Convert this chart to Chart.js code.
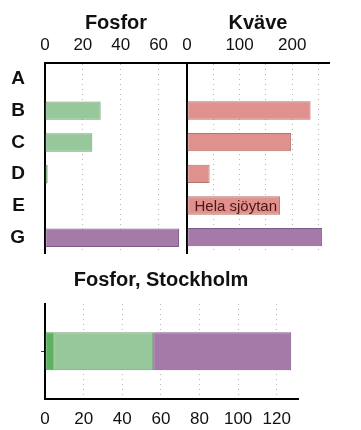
<!DOCTYPE html>
<html>
<head>
<meta charset="utf-8">
<script src="https://cdn.jsdelivr.net/npm/chart.js@4/dist/chart.umd.min.js"></script>
<style>
  body { margin: 0; background: #fff; }
  #wrap { position: relative; width: 361px; height: 430px; overflow: hidden; }
  canvas { position: absolute; }
</style>
</head>
<body>
<div id="wrap">
  <canvas id="fosfor" width="223" height="277" style="left:0;top:0"></canvas>
  <canvas id="kvave" width="186" height="262" style="left:175px;top:0"></canvas>
  <canvas id="stockholm" width="322" height="174" style="left:0;top:256px"></canvas>
</div>
<script>
// data
const categories = ["A", "B", "C", "D", "E", "G"];
const fosforValues = [null, 29.4, 25, 1.4, null, 70.8];
const kvaveValues = [null, 235, 198, 43, 177, 257];
const kvaveNote = ["", "", "", "", "Hela sjöytan", ""];
const fosforTicks = [0, 20, 40, 60];
const kvaveGrid = [0, 50, 100, 150, 200, 250];
const kvaveTickLabels = [0, 100, 200];

const stockholmParts = ["del 1", "del 2", "del 3"];
const stockholmValues = [5, 51, 71.5];
const stockholmTicks = [0, 20, 40, 60, 80, 100, 120];

const FONT = "'Liberation Sans', Arial, sans-serif";
const green = "#96c89b", greenLine = "#6e9f72";
const pink = "#e1918d", pinkLine = "#b5716d";
const purple = "#a57aa9", purpleLine = "#7e5a86";
const darkGreen = "#5bb35f", darkGreenLine = "#4a9a4e";

Chart.defaults.font.family = FONT;
Chart.defaults.color = "#111";

const dotted = [1, 4];

function titleOpts(text, fullSize, top, bottom) {
    return {
        display: true,
        text: text,
        fullSize: fullSize,
        color: "#111",
        font: { size: 20, weight: "bold" },
        padding: { top: top, bottom: bottom }
    };
}

// Fosfor (left)
new Chart(document.getElementById("fosfor"), {
    type: "bar",
    data: {
        labels: categories,
        datasets: [{
            data: fosforValues,
            backgroundColor: categories.map(c => c === "G" ? purple : green),
            borderColor: categories.map(c => c === "G" ? purpleLine : greenLine),
            borderWidth: 1,
            borderSkipped: false,
            barPercentage: 0.58,
            categoryPercentage: 1
        }]
    },
    options: {
        indexAxis: "y",
        responsive: false,
        animation: false,
        layout: { padding: { right: 36 } },
        plugins: { legend: { display: false }, tooltip: { enabled: false }, title: titleOpts("Fosfor", false, 11, 3) },
        scales: {
            x: {
                position: "top",
                min: 0,
                max: 75,
                afterFit: s => { s.height = 25; },
                afterBuildTicks: s => { s.ticks = fosforTicks.map(v => ({ value: v })); },
                ticks: { padding: 7, font: { size: 17 }, color: "#111", maxRotation: 0, autoSkip: false },
                grid: { color: "#b5b5b5", drawTicks: false },
                border: { display: true, color: "#000", width: 2, dash: dotted }
            },
            y: {
                afterFit: s => { s.width = 45; },
                ticks: { padding: 12, font: { size: 19, weight: "bold" }, color: "#111" },
                grid: { display: false },
                border: { display: true, color: "#000", width: 2 }
            }
        }
    }
});

// label written inside a bar
const barNotes = {
    id: "barNotes",
    afterDatasetsDraw(chart) {
        const ctx = chart.ctx;
        chart.getDatasetMeta(0).data.forEach((bar, i) => {
            if (!kvaveNote[i]) return;
            ctx.save();
            ctx.font = "15px " + FONT;
            ctx.fillStyle = "#4a1616";
            ctx.textAlign = "left";
            ctx.textBaseline = "middle";
            ctx.fillText(kvaveNote[i], bar.base + 7, bar.y + 1);
            ctx.restore();
        });
    }
};

// Kväve (right)
new Chart(document.getElementById("kvave"), {
    type: "bar",
    data: {
        labels: categories,
        datasets: [{
            data: kvaveValues,
            backgroundColor: categories.map(c => c === "G" ? purple : pink),
            borderColor: categories.map(c => c === "G" ? purpleLine : pinkLine),
            borderWidth: 1,
            borderSkipped: false,
            barPercentage: 0.58,
            categoryPercentage: 1
        }]
    },
    plugins: [barNotes],
    options: {
        indexAxis: "y",
        responsive: false,
        animation: false,
        layout: { padding: { right: 32, bottom: 9 } },
        plugins: { legend: { display: false }, tooltip: { enabled: false }, title: titleOpts("Kväve", false, 11, 3) },
        scales: {
            x: {
                position: "top",
                min: 0,
                max: 270,
                afterBuildTicks: s => { s.ticks = kvaveGrid.map(v => ({ value: v })); },
                ticks: {
                    padding: 7,
                    font: { size: 17 },
                    color: "#111",
                    maxRotation: 0,
                    autoSkip: false,
                    callback: v => kvaveTickLabels.includes(v) ? String(v) : ""
                },
                afterFit: s => { s.height = 25; },
                grid: { color: "#b5b5b5", drawTicks: false },
                border: { display: true, color: "#000", width: 2, dash: dotted }
            },
            y: {
                afterFit: s => { s.width = 12; },
                ticks: { display: false },
                grid: { display: false },
                border: { display: true, color: "#000", width: 2 }
            }
        }
    }
});

// Fosfor, Stockholm (bottom, stacked)
const partColors = [darkGreen, green, purple];
const partLines = [darkGreenLine, greenLine, purpleLine];
new Chart(document.getElementById("stockholm"), {
    type: "bar",
    data: {
        labels: [""],
        datasets: stockholmParts.map((name, i) => ({
            label: name,
            data: [stockholmValues[i]],
            backgroundColor: partColors[i],
            borderColor: partLines[i],
            borderWidth: 1,
            borderSkipped: false,
            barPercentage: 0.4,
            categoryPercentage: 1
        }))
    },
    options: {
        indexAxis: "y",
        responsive: false,
        animation: false,
        layout: { padding: { left: 24, right: 24 } },
        plugins: {
            legend: { display: false },
            tooltip: { enabled: false },
            title: titleOpts("Fosfor, Stockholm", true, 12, 12)
        },
        scales: {
            x: {
                stacked: true,
                min: 0,
                max: 131,
                afterFit: s => { s.height = 31.5; },
                afterBuildTicks: s => { s.ticks = stockholmTicks.map(v => ({ value: v })); },
                ticks: { padding: 11, font: { size: 17 }, color: "#111", maxRotation: 0, autoSkip: false },
                grid: { color: "#b5b5b5", drawTicks: false },
                border: { display: true, color: "#000", width: 2, dash: dotted }
            },
            y: {
                stacked: true,
                afterFit: s => { s.width = 21; },
                ticks: { padding: 0 },
                grid: { offset: false, drawOnChartArea: false, drawTicks: true, tickLength: 4, tickColor: "#333", tickWidth: 1 },
                border: { display: true, color: "#000", width: 2 }
            }
        }
    }
});
</script>
</body>
</html>
